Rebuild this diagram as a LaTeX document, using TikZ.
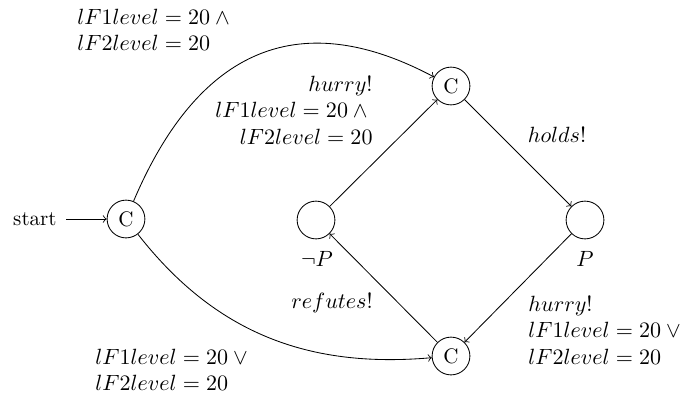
\documentclass[tikz,border=0pt]{standalone}
\usetikzlibrary{arrows}
\begin{document}
\begin{tikzpicture}[x=0.47619pt,y=-0.47619pt,
  stt/.style={circle,draw,minimum size=18pt,inner sep=0pt},
  lbl/.style={inner sep=0pt,scale=1.05,transform shape},
  every edge/.style={draw,->}]
\useasboundingbox (0,0) rectangle (684,394);
\node[stt] (q0) at (126,219) {C};
\node[stt] (top) at (451,86) {C};
\node[stt] (np) at (316,220) {};
\node[stt] (p) at (585,220) {};
\node[stt] (bot) at (451,356) {C};
\node[inner sep=0pt,anchor=east] (st) at (57,219) {start};
\coordinate (sta) at (66,219);
\draw[->] (sta) -- (q0);
\node[lbl] (lnp) at (317,259) {$\neg P$};
\node[lbl] (lp) at (585,259) {$P$};
\node[lbl,anchor=west,align=left] (l1) at (77,30) {$lF1level = 20 \land{}$\\$lF2level = 20$};
\node[lbl,anchor=east,align=right] (l2) at (373,110) {$hurry!$\\$lF1level = 20 \land{}$\\$lF2level = 20$};
\node[lbl] (l3) at (557,135) {$holds!$};
\node[lbl] (l4) at (332,303) {$refutes!$};
\node[lbl,anchor=west,align=left] (l5) at (528,330) {$hurry!$\\$lF1level = 20 \lor{}$\\$lF2level = 20$};
\node[lbl,anchor=west,align=left] (l6) at (95,370) {$lF1level = 20 \lor{}$\\$lF2level = 20$};
\draw (q0) edge[out=67,in=152,looseness=1.25] (top);
\draw (q0) edge[out=-52,in=185,looseness=1.0] (bot);
\draw (np) edge (top);
\draw (top) edge (p);
\draw (p) edge (bot);
\draw (bot) edge (np);
\end{tikzpicture}
\end{document}
